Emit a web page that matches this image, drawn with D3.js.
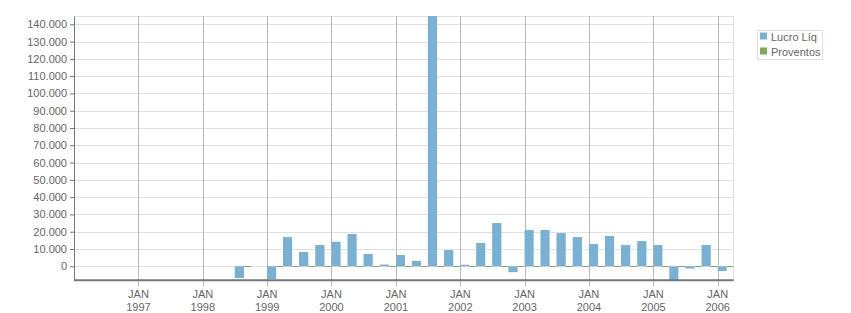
<!DOCTYPE html>
<html lang="pt">
<head>
    <meta charset="UTF-8">
    <script src="https://d3js.org/d3.v7.min.js"></script>
    <style>
        body{ margin:0; background:#fff; }
        text{ font-family:"Liberation Sans", Arial, sans-serif; font-size:11px; fill:#666; }
    </style>
    <title>Lucro Líq x Proventos</title>
</head>
<body>
    <div class="canvas"></div>
</body>
<script>
    // trimestres (mês de início) e valores
    const quarters = ['1998-07','1998-10',
        '1999-01','1999-04','1999-07','1999-10',
        '2000-01','2000-04','2000-07','2000-10',
        '2001-01','2001-04','2001-07','2001-10',
        '2002-01','2002-04','2002-07','2002-10',
        '2003-01','2003-04','2003-07','2003-10',
        '2004-01','2004-04','2004-07','2004-10',
        '2005-01','2005-04','2005-07','2005-10',
        '2006-01'];
    const lucroLiq = [-6800, null,
        -7400, 16900, 8300, 12300,
        14200, 18700, 7100, 1000,
        6500, 3100, 150000, 9400,
        900, 13500, 25000, -3400,
        21000, 21000, 19200, 16900,
        12900, 17500, 12300, 14600,
        12300, -8300, -1300, 12300,
        -2700];
    const proventos = [0, null,
        0, 0, 0, 0,
        0, 0, 0, 0,
        0, 0, 0, 0,
        0, 0, 0, 0,
        0, 0, 0, 0,
        0, 0, 0, 0,
        0, 0, 0, 0,
        0];
    const yTicks = [0,10000,20000,30000,40000,50000,60000,70000,80000,90000,100000,110000,120000,130000,140000];
    const yearTicks = ['1997','1998','1999','2000','2001','2002','2003','2004','2005','2006'];
    const seriesNames = ['Lucro Líq','Proventos'];
    const colors = ['#78b1d3','#80ab5c'];

    const width = 851;
    const height = 313;
    let [mt,mb,mr,ml] = [16, 32.7, 117.4, 74];
    const graphWidth = width - ml - mr;
    const graphHeight = height - mt - mb;

    const svg = d3.select('.canvas')
                    .append('svg')
                    .attr('width',width)
                    .attr('height',height);

    const graph = svg.append('g')
                    .attr('transform',`translate(${ml},${mt})`);

    const parse = d3.timeParse('%Y-%m');
    const x = d3.scaleTime()
                .domain([new Date(1996,0,1), new Date(2006,3,1)])
                .range([0,graphWidth]);
    const y = d3.scaleLinear()
                .domain([-8100,144800])
                .range([graphHeight,0]);

    const fmt = d3.formatLocale({decimal:',', thousands:'.', grouping:[3], currency:['','']}).format(',');

    // grade horizontal
    graph.selectAll('.hgrid')
        .data(yTicks)
        .enter()
        .append('line')
        .attr('x1',0).attr('x2',graphWidth)
        .attr('y1',d => Math.round(y(d))+0.5)
        .attr('y2',d => Math.round(y(d))+0.5)
        .attr('stroke','#e1e1e1');
    graph.append('line')
        .attr('x1',0).attr('x2',graphWidth).attr('y1',0.5).attr('y2',0.5)
        .attr('stroke','#e1e1e1');
    graph.append('line')
        .attr('x1',Math.round(graphWidth)-0.5).attr('x2',Math.round(graphWidth)-0.5)
        .attr('y1',0).attr('y2',graphHeight)
        .attr('stroke','#e1e1e1');

    const yearDates = yearTicks.map(d => new Date(+d,0,1));

    // grade vertical (anos)
    graph.selectAll('.vgrid')
        .data(yearDates)
        .enter()
        .append('line')
        .attr('x1',d => Math.round(x(d))+0.5)
        .attr('x2',d => Math.round(x(d))+0.5)
        .attr('y1',0).attr('y2',graphHeight+6)
        .attr('stroke','#b9b9b9');

    graph.append('clipPath').attr('id','clip')
        .append('rect').attr('width',graphWidth).attr('height',graphHeight);

    const data = quarters.map((q,i) => ({start: parse(q), v: lucroLiq[i], p: proventos[i]}))
                        .filter(d => d.v != null);
    const qw = d => x(d3.timeMonth.offset(d.start,3)) - x(d.start);
    const bw = d => qw(d) * 0.57;

    const bars = graph.append('g').attr('clip-path','url(#clip)');
    bars.selectAll('.prov')
        .data(data)
        .enter()
        .append('rect')
        .attr('x',d => x(d.start) + bw(d))
        .attr('width',d => qw(d) - bw(d))
        .attr('y',d => Math.round(Math.min(y(d.p),y(0))))
        .attr('height',d => Math.max(Math.abs(y(d.p)-y(0)),1))
        .attr('fill',colors[1]);
    bars.selectAll('.lucro')
        .data(data)
        .enter()
        .append('rect')
        .attr('x',d => x(d.start))
        .attr('width',bw)
        .attr('y',d => Math.min(y(d.v),y(0)))
        .attr('height',d => Math.abs(y(d.v)-y(0)))
        .attr('fill',colors[0]);

    // eixos
    const yAxisG = graph.append('g');
    yAxisG.call(d3.axisLeft(y).tickValues(yTicks).tickSize(4).tickSizeOuter(0).tickPadding(3).tickFormat(fmt));
    yAxisG.selectAll('path,line').attr('stroke','#777');

    const xAxisG = graph.append('g').attr('transform',`translate(0,${graphHeight})`);
    xAxisG.append('line')
        .attr('x1',0).attr('x2',graphWidth)
        .attr('y1',0).attr('y2',0)
        .attr('stroke','#777').attr('stroke-width',2);
    const xl = xAxisG.selectAll('.xlab')
        .data(yearDates)
        .enter()
        .append('text')
        .attr('text-anchor','middle')
        .attr('x',d => x(d));
    xl.append('tspan').attr('y',17.7).attr('x',d => x(d)).text('JAN');
    xl.append('tspan').attr('y',30.7).attr('x',d => x(d)).text(d => d3.timeFormat('%Y')(d));

    // legenda
    const legend = svg.append('g').attr('transform','translate(757.5,30.5)');
    legend.append('rect')
        .attr('width',65).attr('height',29)
        .attr('fill','#fff').attr('stroke','#dedede');
    seriesNames.forEach((name,i) => {
        legend.append('rect')
            .attr('x',2.5).attr('y',2 + i*15)
            .attr('width',7).attr('height',7)
            .attr('fill',colors[i]);
        legend.append('text')
            .attr('x',13.5).attr('y',10.5 + i*15)
            .text(name);
    });
</script>
</html>
